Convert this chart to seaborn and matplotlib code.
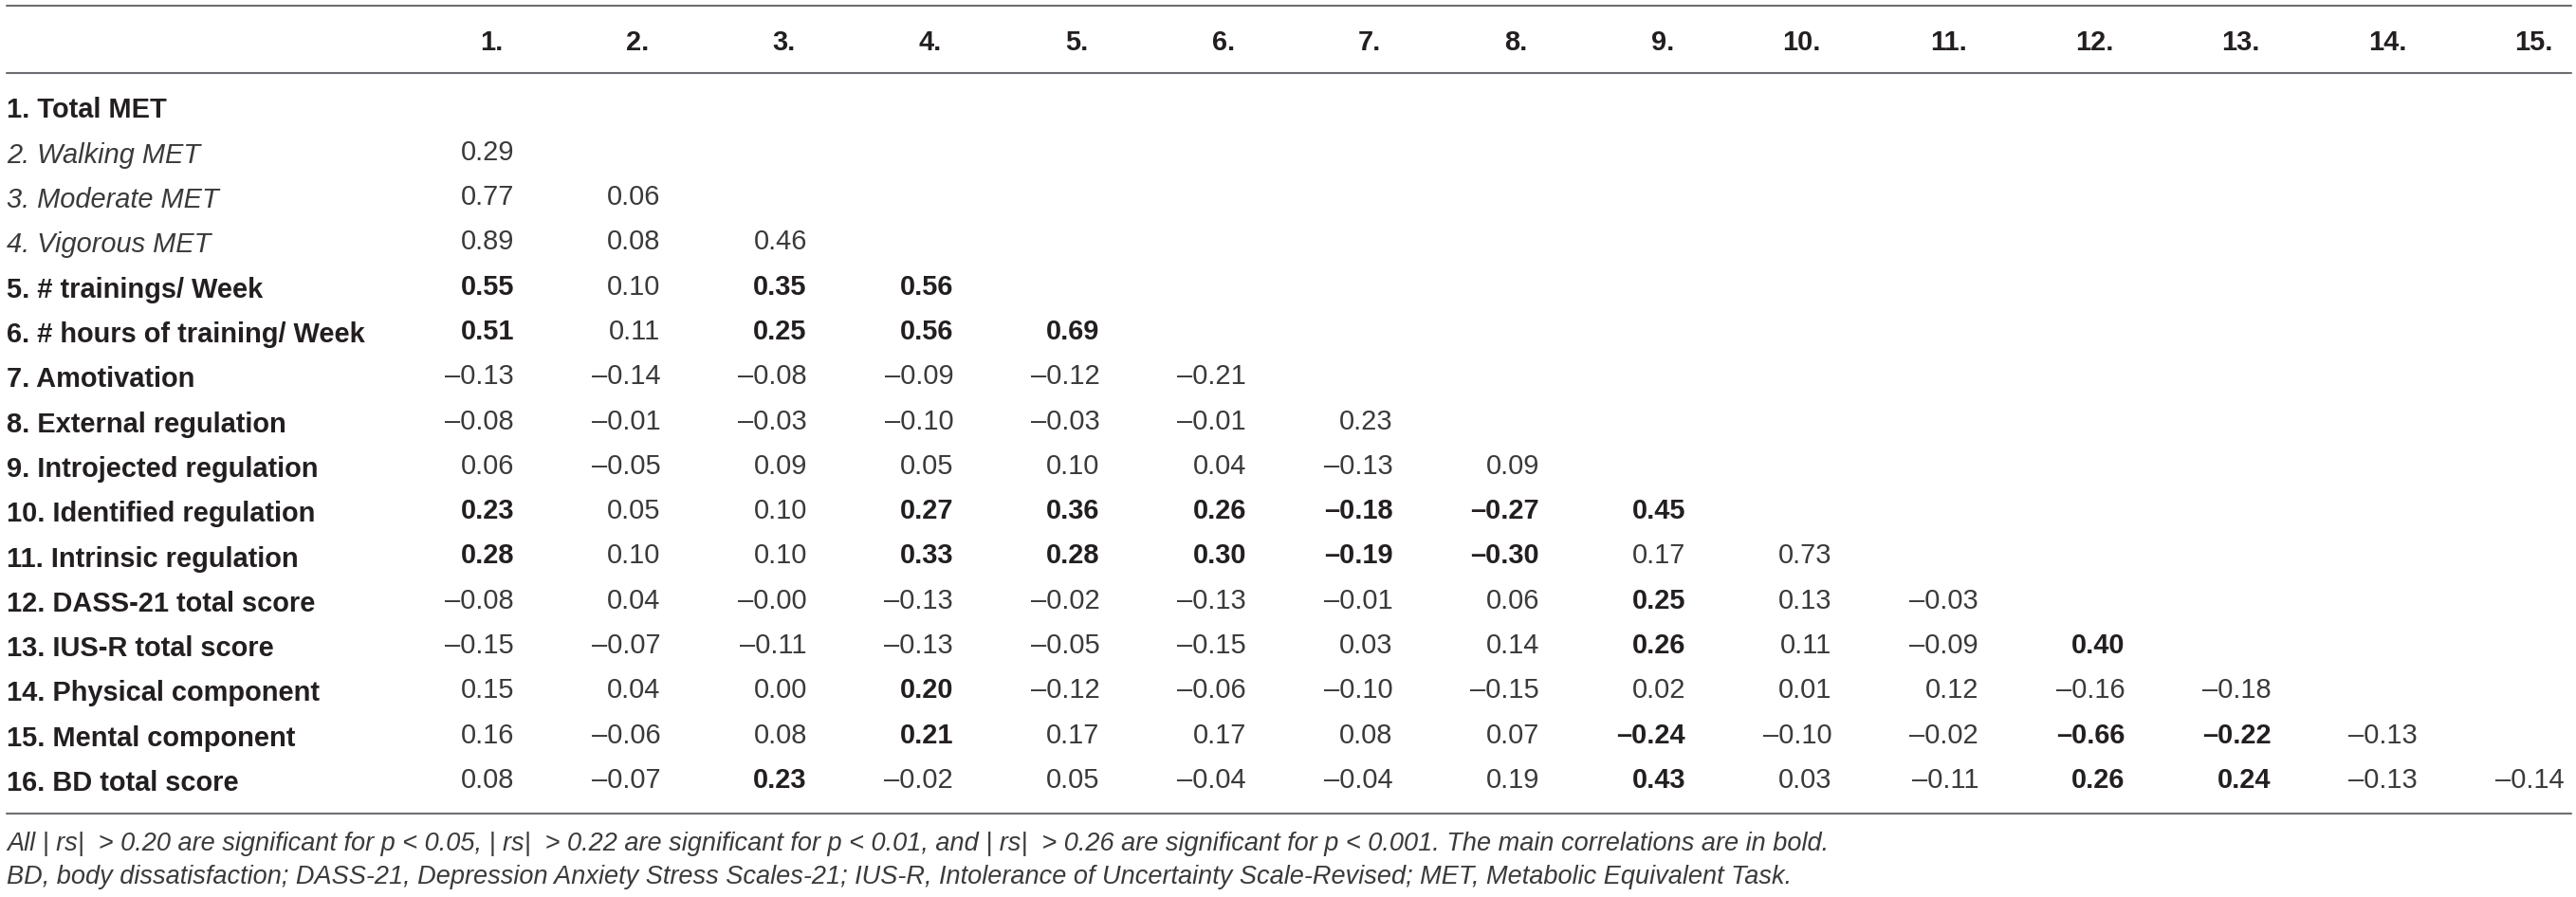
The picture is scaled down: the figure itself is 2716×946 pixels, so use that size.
import numpy as np
import matplotlib.pyplot as plt
import seaborn as sns
from matplotlib.colors import ListedColormap
from matplotlib.lines import Line2D

# Table content
col_headers = ["1.", "2.", "3.", "4.", "5.", "6.", "7.", "8.", "9.", "10.",
               "11.", "12.", "13.", "14.", "15."]
row_labels = ["1. Total MET", "2. Walking MET", "3. Moderate MET", "4. Vigorous MET",
              "5. # trainings/ Week", "6. # hours of training/ Week", "7. Amotivation",
              "8. External regulation", "9. Introjected regulation",
              "10. Identified regulation", "11. Intrinsic regulation",
              "12. DASS-21 total score", "13. IUS-R total score",
              "14. Physical component", "15. Mental component", "16. BD total score"]
italic_rows = [1, 2, 3]

r_values = [
    [],
    [0.29],
    [0.77, 0.06],
    [0.89, 0.08, 0.46],
    [0.55, 0.10, 0.35, 0.56],
    [0.51, 0.11, 0.25, 0.56, 0.69],
    [-0.13, -0.14, -0.08, -0.09, -0.12, -0.21],
    [-0.08, -0.01, -0.03, -0.10, -0.03, -0.01, 0.23],
    [0.06, -0.05, 0.09, 0.05, 0.10, 0.04, -0.13, 0.09],
    [0.23, 0.05, 0.10, 0.27, 0.36, 0.26, -0.18, -0.27, 0.45],
    [0.28, 0.10, 0.10, 0.33, 0.28, 0.30, -0.19, -0.30, 0.17, 0.73],
    [-0.08, 0.04, -0.00, -0.13, -0.02, -0.13, -0.01, 0.06, 0.25, 0.13, -0.03],
    [-0.15, -0.07, -0.11, -0.13, -0.05, -0.15, 0.03, 0.14, 0.26, 0.11, -0.09, 0.40],
    [0.15, 0.04, 0.00, 0.20, -0.12, -0.06, -0.10, -0.15, 0.02, 0.01, 0.12, -0.16, -0.18],
    [0.16, -0.06, 0.08, 0.21, 0.17, 0.17, 0.08, 0.07, -0.24, -0.10, -0.02, -0.66, -0.22, -0.13],
    [0.08, -0.07, 0.23, -0.02, 0.05, -0.04, -0.04, 0.19, 0.43, 0.03, -0.11, 0.26, 0.24, -0.13, -0.14],
]
bold_flags = [
    [],
    [0],
    [0, 0],
    [0, 0, 0],
    [1, 0, 1, 1],
    [1, 0, 1, 1, 1],
    [0, 0, 0, 0, 0, 0],
    [0, 0, 0, 0, 0, 0, 0],
    [0, 0, 0, 0, 0, 0, 0, 0],
    [1, 0, 0, 1, 1, 1, 1, 1, 1],
    [1, 0, 0, 1, 1, 1, 1, 1, 0, 0],
    [0, 0, 0, 0, 0, 0, 0, 0, 1, 0, 0],
    [0, 0, 0, 0, 0, 0, 0, 0, 1, 0, 0, 1],
    [0, 0, 0, 1, 0, 0, 0, 0, 0, 0, 0, 0, 0],
    [0, 0, 0, 1, 0, 0, 0, 0, 1, 0, 0, 1, 1, 0],
    [0, 0, 1, 0, 0, 0, 0, 0, 1, 0, 0, 1, 1, 0, 0],
]
note_1 = ("All | rs|  > 0.20 are significant for p < 0.05, | rs|  > 0.22 are significant "
          "for p < 0.01, and | rs|  > 0.26 are significant for p < 0.001. "
          "The main correlations are in bold.")
note_2 = ("BD, body dissatisfaction; DASS-21, Depression Anxiety Stress Scales-21; "
          "IUS-R, Intolerance of Uncertainty Scale-Revised; MET, Metabolic Equivalent Task.")

sns.set_theme(style="white")
plt.rcParams['font.family'] = ['Liberation Sans', 'DejaVu Sans']
ink = "#231f20"
soft = "#3a3a3a"
rule = "#6d6e71"

W, H = 2716, 946
fig = plt.figure(figsize=(W / 100, H / 100), dpi=100)

# geometry in pixels
cell_w, row_h = 154.4, 47.3
first_center, first_row = 518, 113.5
ax_left = first_center - cell_w / 2
ax_top = first_row - row_h / 2
ax = fig.add_axes([ax_left / W, 1 - (ax_top + 16 * row_h) / H,
                   15 * cell_w / W, 16 * row_h / H])

n_rows, n_cols = len(row_labels), len(col_headers)
corr = np.full((n_rows, n_cols), np.nan)
bold = np.zeros((n_rows, n_cols), dtype=bool)
for i, (vals, flags) in enumerate(zip(r_values, bold_flags)):
    corr[i, :len(vals)] = vals
    bold[i, :len(flags)] = np.array(flags, dtype=bool)

annot = np.full(corr.shape, "", dtype=object)
for i in range(n_rows):
    for j in range(n_cols):
        if not np.isnan(corr[i, j]):
            annot[i, j] = f"{corr[i, j]:.2f}".replace("-", "\u2013")

sns.heatmap(corr, mask=np.isnan(corr), cmap=ListedColormap(["white"]), cbar=False,
            annot=annot, fmt="", annot_kws=dict(fontsize=20.9, color=soft),
            xticklabels=False, yticklabels=False, ax=ax)

# right-align the numbers inside their columns, bold the main correlations
shift = 24 / cell_w
for t in ax.texts:
    x, y = t.get_position()
    i, j = int(y), int(x)
    t.set_ha("right")
    t.set_x(x + shift)
    if bold[i, j]:
        t.set_fontweight("bold")
        t.set_color(ink)

ax.xaxis.tick_top()
ax.set_xticks(np.arange(n_cols) + 0.5 + 12 / cell_w)
ax.set_xticklabels(col_headers, ha="right", fontweight="bold", rotation=0,
                   fontsize=20.9, color=ink)
ax.set_yticks(np.arange(n_rows) + 0.5)
ax.set_yticklabels(row_labels, ha="left", rotation=0, fontsize=20.9, color=ink)
for k, lab in enumerate(ax.get_yticklabels()):
    if k in italic_rows:
        lab.set_fontstyle("italic")
        lab.set_color(soft)
    else:
        lab.set_fontweight("bold")
ax.tick_params(axis="both", length=0)
ax.tick_params(axis="x", pad=22.5)
ax.tick_params(axis="y", pad=(ax_left - 7) * 0.72)
for s in ax.spines.values():
    s.set_visible(False)

# horizontal rules
for yp in [6, 77, 858]:
    fig.add_artist(Line2D([7 / W, 2711 / W], [1 - yp / H, 1 - yp / H],
                          color=rule, lw=1.5))

fig.text(7 / W, 1 - 890 / H, note_1, fontsize=19.5, style="italic", color=soft, va="center")
fig.text(7 / W, 1 - 925 / H, note_2, fontsize=19.5, style="italic", color=soft, va="center")

fig.savefig("out.png", dpi=100, facecolor="white")
